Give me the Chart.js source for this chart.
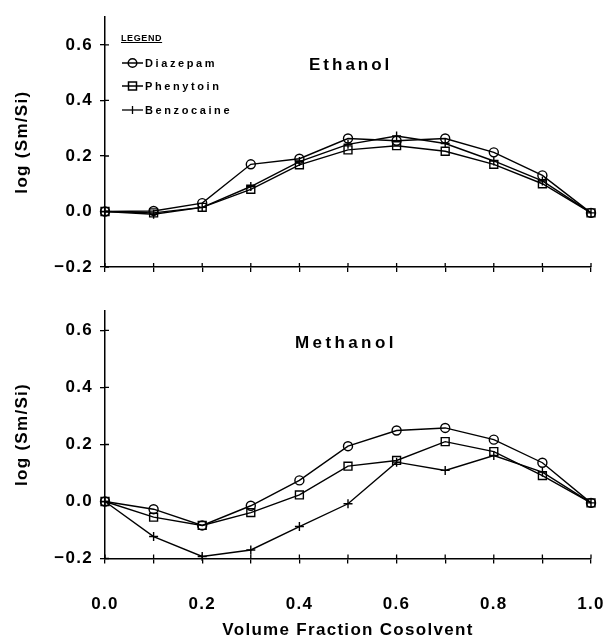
<!DOCTYPE html>
<html>
<head>
<meta charset="utf-8">
<script src="https://cdn.jsdelivr.net/npm/chart.js@4.4.1/dist/chart.umd.min.js"></script>
<style>
  html, body { margin:0; padding:0; background:#fff; }
  body { width:605px; height:642px; position:relative; overflow:hidden; font-family:'Liberation Sans', Arial, sans-serif; color:#000; }
  .pane { position:absolute; left:0; width:605px; }
  .lbl { position:absolute; white-space:nowrap; font-weight:bold; }
  .row { position:absolute; left:121px; height:14px; display:flex; align-items:center; }
  .row span { font-size:11px; font-weight:bold; letter-spacing:2.6px; margin-left:1px; line-height:14px; }
</style>
</head>
<body>
<div class="pane" style="top:0;height:290px"><canvas id="c1"></canvas></div>
<div class="pane" style="top:290px;height:352px"><canvas id="c2"></canvas></div>

<div class="lbl" style="left:309px;top:55px;font-size:17px;line-height:20px;letter-spacing:3px">Ethanol</div>
<div class="lbl" style="left:295px;top:333px;font-size:17px;line-height:20px;letter-spacing:3.4px">Methanol</div>

<div class="lbl" style="left:121px;top:33px;font-size:9px;line-height:10px;letter-spacing:0.6px;text-decoration:underline">LEGEND</div>
<div class="row" style="top:56px">
  <svg width="23" height="14"><line x1="1" y1="7" x2="22" y2="7" stroke="#000" stroke-width="1.5"/><circle cx="11.5" cy="7" r="4.3" fill="none" stroke="#000" stroke-width="1.5"/></svg>
  <span>Diazepam</span>
</div>
<div class="row" style="top:79px">
  <svg width="23" height="14"><line x1="1" y1="7" x2="22" y2="7" stroke="#000" stroke-width="1.5"/><rect x="7.5" y="3" width="8" height="8" fill="none" stroke="#000" stroke-width="1.5"/></svg>
  <span>Phenytoin</span>
</div>
<div class="row" style="top:103px">
  <svg width="23" height="14"><line x1="1" y1="7" x2="22" y2="7" stroke="#000" stroke-width="1.3"/><line x1="11.5" y1="3" x2="11.5" y2="11" stroke="#000" stroke-width="1.3"/></svg>
  <span>Benzocaine</span>
</div>

<script>
// ---- Data ----
const xValues = [0.0, 0.1, 0.2, 0.3, 0.4, 0.5, 0.6, 0.7, 0.8, 0.9, 1.0];
const seriesNames = ['Diazepam', 'Phenytoin', 'Benzocaine'];

const ethanolDiazepam   = [0.00,  0.002, 0.030, 0.170, 0.190, 0.263, 0.255, 0.263, 0.213, 0.130, -0.005];
const ethanolPhenytoin  = [0.00, -0.005, 0.015, 0.080, 0.168, 0.222, 0.237, 0.217, 0.170, 0.100, -0.005];
const ethanolBenzocaine = [0.00, -0.010, 0.015, 0.090, 0.180, 0.242, 0.272, 0.245, 0.182, 0.110, -0.005];

const methanolDiazepam   = [0.00, -0.027, -0.084, -0.015,  0.074,  0.194, 0.249, 0.258, 0.217, 0.136, -0.005];
const methanolPhenytoin  = [0.00, -0.055, -0.084, -0.039,  0.023,  0.124, 0.144, 0.210, 0.175, 0.091, -0.005];
const methanolBenzocaine = [0.00, -0.123, -0.193, -0.170, -0.088, -0.008, 0.138, 0.109, 0.161, 0.103, -0.005];

const xTickValues = [0.0, 0.1, 0.2, 0.3, 0.4, 0.5, 0.6, 0.7, 0.8, 0.9, 1.0];
const xTickLabels = ['0.0', '', '0.2', '', '0.4', '', '0.6', '', '0.8', '', '1.0'];
const yTickValues = [-0.2, 0.0, 0.2, 0.4, 0.6];
const yTickLabels = ['\u22120.2', '0.0', '0.2', '0.4', '0.6'];
const xAxisTitle = 'Volume Fraction Cosolvent';
const yAxisTitle = 'log (Sm/Si)';

// ---- Rendering ----
const FONT = "'Liberation Sans', Arial, sans-serif";
const pointStyles = ['circle', 'rect', 'cross'];
const pointRadii = [4.5, 5.6, 4.5];

const spacingPlugin = { id: 'spacing', beforeDraw(chart) { chart.ctx.letterSpacing = '1.3px'; } };
const innerTicks = {
  id: 'innerTicks',
  beforeDatasetsDraw(chart) {
    const { ctx, chartArea: a, scales: { x, y } } = chart;
    ctx.save();
    ctx.strokeStyle = '#000';
    ctx.lineWidth = 1.3;
    ctx.beginPath();
    x.ticks.forEach(t => { const p = x.getPixelForValue(t.value); ctx.moveTo(p, a.bottom); ctx.lineTo(p, a.bottom - 4); });
    y.ticks.forEach(t => { const p = y.getPixelForValue(t.value); ctx.moveTo(a.left, p); ctx.lineTo(a.left + 4, p); });
    ctx.stroke();
    ctx.restore();
  }
};

function makeDataset(i, values) {
  return {
    label: seriesNames[i],
    data: xValues.map((x, k) => ({ x: x, y: values[k] })),
    borderColor: '#000',
    borderWidth: 1.4,
    tension: 0,
    fill: false,
    clip: false,
    pointStyle: pointStyles[i],
    pointRadius: pointRadii[i],
    pointBorderColor: '#000',
    pointBackgroundColor: 'rgba(0,0,0,0)',
    pointBorderWidth: 1.4
  };
}

function buildChart(id, series, yMax, showX, padTop, xAxisHeight) {
  return new Chart(document.getElementById(id), {
    type: 'line',
    data: { datasets: series.map((s, i) => makeDataset(i, s)) },
    options: {
      responsive: true,
      maintainAspectRatio: false,
      animation: false,
      devicePixelRatio: 1,
      layout: { padding: { top: padTop, right: 14, left: 0, bottom: 0 } },
      plugins: { legend: { display: false }, tooltip: { enabled: false } },
      scales: {
        x: {
          type: 'linear', min: 0, max: 1,
          afterBuildTicks: s => { s.ticks = xTickValues.map(v => ({ value: v })); },
          afterFit: s => { s.height = xAxisHeight; s.paddingLeft = 0; s.paddingRight = 0; },
          ticks: {
            display: showX, autoSkip: false, maxRotation: 0, minRotation: 0,
            padding: 31, color: '#000', font: { family: FONT, size: 17, weight: 'bold' },
            callback: (v, i) => xTickLabels[i]
          },
          grid: { drawOnChartArea: false, drawTicks: true, tickLength: 5, color: '#000', lineWidth: 1.3 },
          border: { display: true, color: '#000', width: 1.5 },
          title: { display: showX, text: xAxisTitle, color: '#000', font: { family: FONT, size: 17, weight: 'bold' }, padding: { top: 0, bottom: 1 } }
        },
        y: {
          type: 'linear', min: -0.2, max: yMax,
          afterBuildTicks: s => { s.ticks = yTickValues.map(v => ({ value: v })); },
          afterFit: s => { s.width = 105; },
          ticks: { padding: 7, color: '#000', font: { family: FONT, size: 17, weight: 'bold' }, callback: (v, i) => yTickLabels[i] },
          grid: { drawOnChartArea: false, drawTicks: true, tickLength: 5, color: '#000', lineWidth: 1.3 },
          border: { display: true, color: '#000', width: 1.5 },
          title: { display: true, text: yAxisTitle, color: '#000', font: { family: FONT, size: 17, weight: 'bold' }, padding: { top: 12, bottom: 0 } }
        }
      }
    },
    plugins: [spacingPlugin, innerTicks]
  });
}

buildChart('c1', [ethanolDiazepam, ethanolPhenytoin, ethanolBenzocaine], 0.7, false, 10.5, 23);
buildChart('c2', [methanolDiazepam, methanolPhenytoin, methanolBenzocaine], 0.67, true, 20.5, 83.5);
</script>
</body>
</html>
